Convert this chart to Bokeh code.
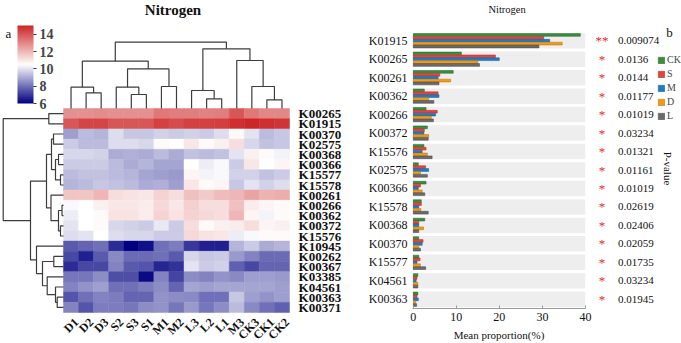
import numpy as np
from bokeh.plotting import figure
from bokeh.models import (Range1d, ColumnDataSource, LinearColorMapper, ColorBar,
                          FixedTicker, Legend, LegendItem)
from bokeh.layouts import row
from bokeh.transform import dodge, transform
from bokeh.core.properties import value
from bokeh.embed import file_html
from bokeh.resources import INLINE

SERIF = "Liberation Serif"

# ---------------- heatmap data (panel a) ----------------
samples = ["D1", "D2", "D3", "S2", "S3", "S1", "M1", "M2",
           "L3", "L2", "L1", "M3", "CK3", "CK1", "CK2"]
genes = ["K00265", "K01915", "K00370", "K02575", "K00368", "K00366", "K15577",
         "K15578", "K00261", "K00266", "K00362", "K00372", "K15576", "K10945",
         "K00262", "K00367", "K03385", "K04561", "K00363", "K00371"]
heat_values = [
    [12.8, 12.8, 12.9, 12.8, 12.8, 12.8, 13.3, 13.2, 13.2, 13.1, 13.2, 14.0, 13.3, 13.0, 13.0],
    [14.0, 14.3, 14.3, 14.0, 14.0, 14.0, 14.4, 14.2, 14.4, 14.4, 14.5, 14.8, 15.0, 14.8, 14.7],
    [8.8, 9.3, 9.2, 9.9, 9.5, 9.5, 9.7, 9.6, 9.7, 9.6, 9.9, 10.6, 10.0, 9.3, 9.5],
    [9.6, 9.3, 9.3, 9.9, 9.9, 9.8, 10.6, 10.5, 11.0, 10.6, 10.8, 11.2, 9.8, 9.4, 9.5],
    [9.8, 9.8, 9.7, 9.0, 9.1, 9.0, 9.3, 9.0, 9.4, 9.3, 9.4, 10.0, 10.8, 10.6, 10.3],
    [9.6, 9.6, 9.6, 9.3, 9.0, 9.2, 8.9, 8.9, 10.5, 10.2, 10.4, 9.6, 11.0, 10.5, 10.7],
    [9.3, 9.4, 9.4, 9.3, 9.2, 8.9, 8.8, 8.7, 10.7, 10.3, 10.4, 9.7, 9.7, 9.4, 9.6],
    [9.2, 9.3, 9.5, 9.4, 9.3, 9.0, 9.1, 8.8, 11.0, 10.6, 10.7, 9.5, 10.0, 9.7, 9.9],
    [11.7, 11.7, 12.0, 11.2, 11.1, 11.0, 11.4, 11.2, 11.8, 11.6, 11.9, 12.0, 12.4, 12.1, 12.2],
    [10.4, 10.5, 10.8, 11.0, 11.0, 10.9, 11.3, 11.0, 11.5, 11.2, 11.2, 11.8, 10.9, 10.7, 10.6],
    [10.2, 10.5, 10.6, 11.1, 11.1, 10.9, 11.4, 11.1, 11.4, 11.3, 11.2, 12.0, 10.7, 10.3, 10.6],
    [10.0, 10.5, 10.6, 9.8, 9.7, 9.6, 10.1, 9.6, 11.2, 10.6, 10.8, 10.9, 11.2, 10.7, 10.8],
    [9.9, 10.0, 10.5, 9.9, 9.8, 9.8, 9.6, 9.6, 11.3, 11.1, 11.0, 10.2, 10.4, 10.6, 10.6],
    [7.6, 7.8, 8.0, 6.8, 6.0, 6.3, 8.0, 8.2, 7.0, 6.6, 6.6, 9.2, 9.6, 9.0, 9.2],
    [7.3, 6.6, 7.6, 8.4, 7.9, 7.9, 8.0, 7.6, 9.8, 9.5, 9.6, 8.7, 8.3, 7.9, 7.9],
    [6.8, 7.3, 7.3, 8.3, 7.6, 7.5, 6.7, 6.9, 10.0, 9.6, 9.7, 7.7, 7.3, 7.8, 7.8],
    [8.1, 8.1, 8.5, 7.4, 7.4, 6.2, 8.3, 7.2, 8.5, 8.3, 8.6, 8.4, 8.8, 8.8, 8.7],
    [8.3, 8.6, 8.8, 8.0, 8.0, 8.2, 8.5, 7.8, 8.9, 8.8, 8.9, 8.9, 8.9, 8.9, 8.8],
    [7.5, 8.0, 8.3, 8.2, 7.8, 7.8, 8.6, 8.5, 8.4, 8.0, 8.0, 9.5, 8.8, 8.6, 8.8],
    [8.3, 7.5, 8.2, 8.2, 8.1, 8.5, 8.6, 8.1, 8.7, 8.1, 8.5, 9.3, 8.4, 8.0, 7.7],
]
color_ticks = [6, 8, 10, 12, 14]

# hierarchical clustering of samples: (child_a, child_b, distance); ids >= 15 are merges
col_merges = [
    (13, 14, 8.7), (9, 10, 9.7), (4, 5, 14.0), (1, 2, 15.7), (8, 16, 18.0),
    (0, 18, 21.3), (3, 17, 21.3), (6, 7, 22.0), (12, 15, 22.0), (21, 22, 39.7),
    (20, 24, 47.3), (11, 23, 48.0), (19, 26, 59.7), (25, 27, 66.3),
]
# hierarchical clustering of genes; ids >= 20 are merges
row_merges = [
    (9, 10, 1.5), (11, 12, 3.0), (6, 7, 3.0), (4, 5, 5.0), (20, 21, 5.0),
    (18, 19, 6.3), (17, 25, 8.0), (23, 22, 8.0), (14, 15, 9.7), (2, 3, 10.0),
    (29, 27, 12.0), (8, 24, 12.5), (0, 1, 14.7), (16, 26, 16.3), (30, 31, 17.0),
    (28, 33, 21.0), (13, 35, 27.0), (34, 36, 33.0), (32, 37, 60.3),
]

# ---------------- bar data (panel b) ----------------
bar_genes = ["K01915", "K00265", "K00261", "K00362", "K00266", "K00372", "K15576",
             "K02575", "K00366", "K15578", "K00368", "K00370", "K15577", "K04561", "K00363"]
groups = ["CK", "S", "M", "D", "L"]
ck = [38.8, 11.2, 9.3, 2.6, 3.0, 3.3, 2.5, 1.2, 3.0, 1.9, 2.7, 1.3, 1.3, 1.1, 1.1]
s = [30.3, 19.1, 6.2, 5.8, 5.6, 2.6, 3.0, 2.9, 1.7, 1.9, 1.3, 2.3, 1.6, 0.9, 0.9]
m = [31.7, 20.0, 5.8, 6.0, 5.2, 2.5, 2.1, 3.6, 1.2, 1.3, 1.3, 2.1, 0.9, 0.7, 1.2]
d = [34.6, 15.0, 8.7, 3.6, 4.2, 3.6, 3.3, 1.7, 2.1, 1.8, 2.4, 1.3, 1.7, 1.1, 0.6]
l = [29.2, 15.4, 6.0, 4.8, 4.7, 3.5, 4.4, 3.3, 2.7, 3.5, 1.3, 1.7, 2.9, 1.1, 0.8]
p_values = ["0.009074", "0.0136", "0.0144", "0.01177", "0.01019", "0.03234", "0.01321",
            "0.01161", "0.01019", "0.02619", "0.02406", "0.02059", "0.01735", "0.03234", "0.01945"]
signif = ["**"] + ["*"] * 14
bar_ticks = [0, 10, 20, 30, 40]


def ramp(c0, c1, n):
    out = []
    for t in np.linspace(0, 1, n):
        out.append("#%02x%02x%02x" % tuple(int(round(c0[j] + (c1[j] - c0[j]) * t)) for j in range(3)))
    return out


palette = ramp((0, 0, 128), (255, 255, 255), 128) + ramp((255, 255, 255), (205, 38, 38), 128)[1:]


def dendro_segments(n_leaves, merges):
    pos = {i: i + 0.5 for i in range(n_leaves)}
    hgt = {i: 0.0 for i in range(n_leaves)}
    segs = []
    for k, (a, b, h) in enumerate(merges):
        cid = n_leaves + k
        segs.append(([pos[a], pos[a], pos[b], pos[b]], [hgt[a], h, h, hgt[b]]))
        pos[cid] = (pos[a] + pos[b]) / 2
        hgt[cid] = h
    return segs


def bare(p):
    p.grid.visible = False
    p.title.visible = False
    p.min_border_left = p.min_border_right = 0
    p.min_border_top = p.min_border_bottom = 0


# ---------------- panel a ----------------
W1, H = 345, 343
CELL_W, CELL_H = 226 / 15, 10.2          # pixels per column / row
LEFT0, TOP0 = 63, 108                     # heatmap corner in pixels

p1 = figure(width=W1, height=H, toolbar_location=None, output_backend="svg",
            x_range=Range1d(-LEFT0 / CELL_W, (W1 - LEFT0) / CELL_W),
            y_range=Range1d((H - TOP0) / CELL_H, -TOP0 / CELL_H),
            x_axis_location=None, y_axis_location=None, min_border=0,
            outline_line_color=None, frame_align=False)
bare(p1)

mapper = LinearColorMapper(palette=palette, low=6, high=15)
hx, hy, hv = [], [], []
for r, rowvals in enumerate(heat_values):
    for c, v in enumerate(rowvals):
        hx.append(c + 0.5)
        hy.append(r + 0.5)
        hv.append(v)
hsrc = ColumnDataSource(dict(x=hx, y=hy, v=hv))
p1.rect(x="x", y="y", width=1, height=1, source=hsrc,
        fill_color=transform("v", mapper), line_color=transform("v", mapper), line_width=0.5)

# sample dendrogram above the heatmap
top_scale = 1 / CELL_H
segs = dendro_segments(len(samples), col_merges)
p1.multi_line(xs=[sx for sx, sy in segs], ys=[[-h * top_scale for h in sy] for sx, sy in segs],
              line_color="#3c3c3c", line_width=1.2)

# gene dendrogram left of the heatmap
left_scale = 1 / CELL_W
segs = dendro_segments(len(genes), row_merges)
p1.multi_line(xs=[[-h * left_scale for h in sy] for sx, sy in segs], ys=[sx for sx, sy in segs],
              line_color="#3c3c3c", line_width=1.2)

# gene labels
p1.text(x=len(samples) + 0.6, y=[r + 0.5 for r in range(len(genes))], text=genes,
        text_font=value(SERIF), text_font_style="bold", text_font_size="13px",
        text_baseline="middle", text_align="left", text_color="#111111")
# sample labels
p1.text(x=[c + 0.85 for c in range(len(samples))], y=len(genes) + 0.75, text=samples,
        angle=np.pi / 4, text_font=value(SERIF), text_font_style="bold", text_font_size="12px",
        text_baseline="middle", text_align="right", text_color="#111111")

p1.text(x=[(W1 / 2 - LEFT0) / CELL_W], y=[-99 / CELL_H], text=["Nitrogen"],
        text_font=value(SERIF), text_font_style="bold", text_font_size="15px",
        text_baseline="middle", text_align="center", text_color="#111111")
p1.text(x=[-55 / CELL_W], y=[-75.5 / CELL_H], text=["a"],
        text_font=value(SERIF), text_font_size="13px",
        text_baseline="middle", text_align="center", text_color="#111111")

cbar = ColorBar(color_mapper=mapper, ticker=FixedTicker(ticks=color_ticks),
                width=16, height=78, location=(17, 240), padding=0, margin=0,
                background_fill_alpha=0, border_line_color=None,
                major_tick_in=0, major_tick_out=3, major_tick_line_color="#333333",
                label_standoff=3, major_label_text_font=SERIF,
                major_label_text_font_style="bold", major_label_text_font_size="14px")
p1.add_layout(cbar)

# ---------------- panel b: bars ----------------
PX_PER_UNIT = 4.31
TOP2, BOT2 = 31, 35                      # space above the first band / below the axis line
n = len(bar_genes)
row_h = (H - TOP2 - BOT2) / n
y_top = n + 0.5 + TOP2 / row_h           # frame top, leaving room for the panel title
y_pos = [n - k for k in range(n)]        # first gene on top

W2 = 248
p2 = figure(width=W2, height=H, toolbar_location=None, output_backend="svg",
            x_range=Range1d(-0.15, bar_ticks[-1]), y_range=Range1d(0.5, y_top),
            min_border_left=67, min_border_right=8, min_border_top=0, min_border_bottom=BOT2,
            outline_line_color=None, frame_align=False)
p2.grid.visible = False
p2.title.visible = False

src = ColumnDataSource(dict(gene=bar_genes, y=y_pos, CK=ck, S=s, M=m, D=d, L=l,
                            p=p_values, sig=signif))
p2.hbar(y="y", left=0, right=bar_ticks[-1], height=0.84, source=src,
        fill_color="#eeeeee", line_color=None)

fills = ["#3a8e3c", "#e8433b", "#1f7cc4", "#f39a12", "#6b6b6b"]
edges = ["#22662a", "#b02a24", "#155a92", "#b87008", "#444444"]
offsets = [0.312, 0.156, 0.0, -0.156, -0.312]
for g, fc, ec, off in zip(groups, fills, edges, offsets):
    p2.hbar(y=dodge("y", off), left=0, right=g, height=0.15,
            source=src, fill_color=fc, line_color=ec, line_width=0.5)

p2.text(x=[21.8], y=[n + 0.5 + (TOP2 - 9) / row_h], text=["Nitrogen"],
        text_font=value(SERIF), text_font_size="10.5px", text_align="center",
        text_baseline="middle", text_color="#111111")

p2.xaxis.ticker = FixedTicker(ticks=bar_ticks)
p2.xaxis.axis_label = "Mean proportion(%)"
p2.xaxis.axis_label_standoff = 5
p2.xaxis.axis_label_text_font = SERIF
p2.xaxis.axis_label_text_font_size = "11px"
p2.xaxis.axis_label_text_font_style = "normal"
p2.xaxis.axis_label_text_color = "#111111"
p2.xaxis.axis_line_color = "#9a9a9a"
p2.xaxis.major_tick_line_color = "#9a9a9a"
p2.xaxis.major_tick_in = 3
p2.xaxis.major_tick_out = 0
p2.xaxis.minor_tick_line_color = None
p2.xaxis.major_label_standoff = 4
p2.xaxis.major_label_text_font = SERIF
p2.xaxis.major_label_text_font_size = "12px"
p2.xaxis.major_label_text_color = "#111111"

p2.yaxis.ticker = FixedTicker(ticks=y_pos)
p2.yaxis.major_label_overrides = {yv: g for yv, g in zip(y_pos, bar_genes)}
p2.yaxis.axis_line_color = None
p2.yaxis.major_tick_line_color = None
p2.yaxis.major_tick_in = 0
p2.yaxis.major_tick_out = 0
p2.yaxis.minor_tick_line_color = None
p2.yaxis.minor_tick_out = 0
p2.yaxis.major_label_standoff = 5
p2.yaxis.major_label_text_font = SERIF
p2.yaxis.major_label_text_font_size = "12px"
p2.yaxis.major_label_text_color = "#111111"

# ---------------- panel b: significance, p-values and legend ----------------
W3 = 681 - W1 - W2
x0 = (W2 - 67) / PX_PER_UNIT - 0.15        # data value at this strip's left edge
p3 = figure(width=W3, height=H, toolbar_location=None, output_backend="svg",
            x_range=Range1d(x0, x0 + W3 / PX_PER_UNIT),
            y_range=Range1d(0.5 - BOT2 / row_h, y_top),
            x_axis_location=None, y_axis_location=None, min_border=0,
            outline_line_color=None, frame_align=False)
bare(p3)
p3.text(x=43.8, y="y", text="sig", source=src, text_color="#e8262b",
        text_font=value(SERIF), text_font_size="13px", text_align="center",
        text_baseline="middle")
p3.text(x=47.55, y="y", text="p", source=src, text_color="#111111",
        text_font=value(SERIF), text_font_size="11px", text_align="left",
        text_baseline="middle")
p3.text(x=[59.2], y=[y_top - 168 / row_h], text=["P-value"], angle=-np.pi / 2,
        text_color="#111111", text_font=value(SERIF), text_font_size="11px",
        text_align="center", text_baseline="middle")
p3.text(x=[59.5], y=[y_top - 32 / row_h], text=["b"], text_color="#111111",
        text_font=value(SERIF), text_font_size="13px", text_align="center",
        text_baseline="middle")

# legend swatches: hidden copies of the group bars supply the legend glyphs
items = []
for g, fc, ec in zip(groups, fills, edges):
    sw = p3.hbar(y="y", left=0, right=g, height=0.15, source=src,
                 fill_color=fc, line_color=ec, line_width=0.5, visible=False)
    items.append(LegendItem(label=g, renderers=[sw]))
legend = Legend(items=items, location=(64, 222), padding=0, margin=0, spacing=3,
                glyph_width=8, glyph_height=8, label_height=9, label_standoff=2,
                label_text_font=SERIF, label_text_font_size="10px",
                border_line_color=None, background_fill_alpha=0,
                inactive_fill_alpha=0)
p3.add_layout(legend)

layout = row(p1, p2, p3)
open("out.html", "w").write(file_html(layout, INLINE))
